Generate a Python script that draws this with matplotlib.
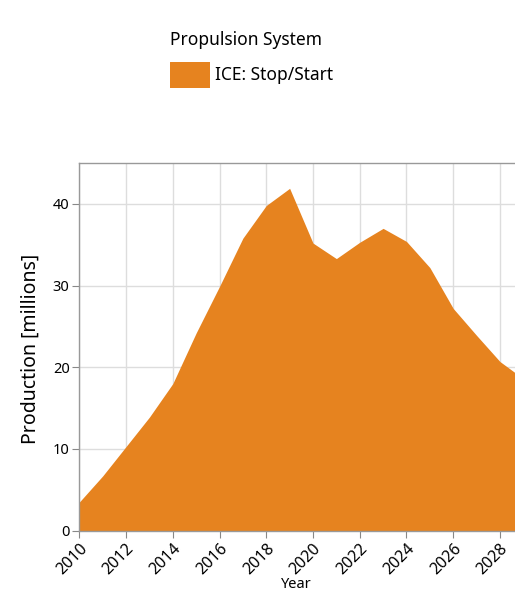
import matplotlib
matplotlib.use('Agg')
import matplotlib.pyplot as plt

# Dados
anos = [2010, 2011, 2012, 2013, 2014, 2015, 2016, 2017, 2018, 2019,
        2020, 2021, 2022, 2023, 2024, 2025, 2026, 2027, 2028, 2029]
producao = [3.5, 6.7, 10.3, 13.9, 18.0, 24.2, 29.9, 35.8, 39.8, 41.9,
            35.2, 33.3, 35.3, 37.0, 35.4, 32.2, 27.2, 23.9, 20.7, 18.6]
serie = 'ICE: Stop/Start'
titulo_legenda = 'Propulsion System'
ticks_x = [2010, 2012, 2014, 2016, 2018, 2020, 2022, 2024, 2026, 2028]
ticks_y = [0, 10, 20, 30, 40]

plt.rcParams['font.family'] = ['Noto Sans', 'DejaVu Sans']

W, H = 515, 595
fig = plt.figure(figsize=(W / 100, H / 100), dpi=100)

# eixo estende além da borda direita (recortado como no original)
x0, x1 = 79.3, 79.3 + 19 * 23.37
y0, y1 = 530.7, 163
ax = fig.add_axes([x0 / W, 1 - y0 / H, (x1 - x0) / W, (y0 - y1) / H])

cor = '#E6831F'
ax.fill_between(anos, producao, 0, color=cor, linewidth=0, zorder=2)

ax.set_xlim(2010, 2029)
ax.set_ylim(0, 45)
ax.set_xticks(ticks_x)
ax.set_xticklabels([str(t) for t in ticks_x], rotation=45, ha='right',
                   rotation_mode='anchor', fontsize=11.5)
ax.set_yticks(ticks_y)
ax.tick_params(axis='y', labelsize=10.5, length=5, color='#888888', pad=2)
ax.tick_params(axis='x', length=5, color='#888888', pad=2)
ax.grid(True, color='#dddddd', linewidth=1, zorder=0)
ax.set_axisbelow(True)
for s in ax.spines.values():
    s.set_color('#999999')
    s.set_linewidth(1)

fig.text(31 / W, 1 - 349 / H, 'Production [millions]', fontsize=14, rotation=90,
         ha='center', va='center')
fig.text(296 / W, 1 - 585 / H, 'Year', fontsize=10.5, ha='center', va='center')

# legenda manual no topo
fig.text(170 / W, 1 - 40 / H, titulo_legenda, fontsize=12.5, va='center', ha='left')
leg_ax = fig.add_axes([170 / W, 1 - 88 / H, 40 / W, 26 / H])
leg_ax.add_patch(plt.Rectangle((0, 0), 1, 1, color=cor))
leg_ax.set_axis_off()
fig.text(215 / W, 1 - 75 / H, serie, fontsize=12.5, va='center', ha='left')

fig.savefig('out.png', dpi=100)
